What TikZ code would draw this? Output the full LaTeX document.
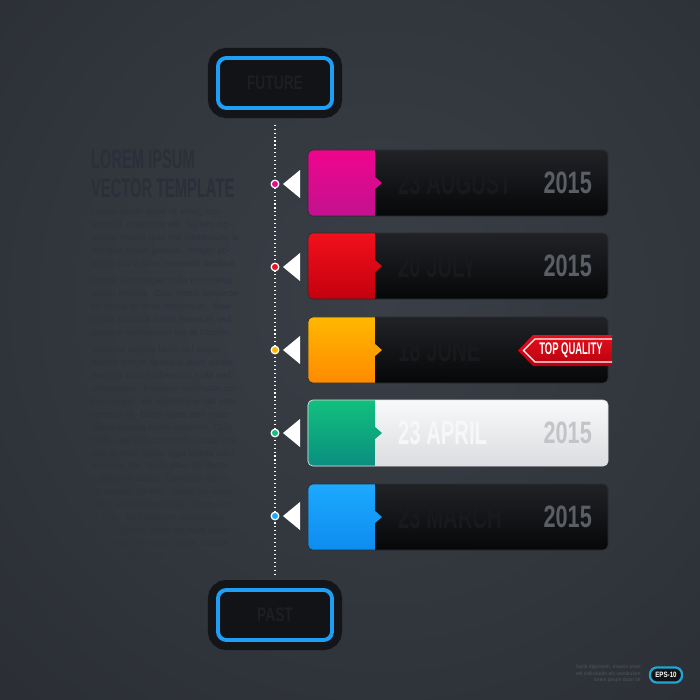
\documentclass[tikz,border=0pt]{standalone}
\usepackage{fontspec}
\setmainfont{Liberation Sans}
\usetikzlibrary{calc}

\definecolor{bgin}{HTML}{3A3F47}
\definecolor{bgout}{HTML}{1D2024}
\definecolor{cardtop}{HTML}{202226}
\definecolor{cardbot}{HTML}{060708}
\definecolor{cardedge}{HTML}{2C2F34}
\definecolor{whitetop}{HTML}{F8F9FA}
\definecolor{whitebot}{HTML}{DCDDE0}
\definecolor{yeargray}{HTML}{5B5F65}
\definecolor{yearlight}{HTML}{C2C4C7}
\definecolor{datedark}{HTML}{17191C}
\definecolor{datelight}{HTML}{F6F7F8}
\definecolor{pinktop}{HTML}{F0048C}
\definecolor{pinkbot}{HTML}{C2128F}
\definecolor{redtop}{HTML}{F2101C}
\definecolor{redbot}{HTML}{C4000E}
\definecolor{orangetop}{HTML}{FFB800}
\definecolor{orangebot}{HTML}{FF8A00}
\definecolor{greentop}{HTML}{12C07E}
\definecolor{greenbot}{HTML}{0A8E80}
\definecolor{bluetop}{HTML}{1CAAFF}
\definecolor{bluebot}{HTML}{0E8CF0}
\definecolor{boxblue}{HTML}{1E9EF5}
\definecolor{boxframe}{HTML}{131518}
\definecolor{boxfill}{HTML}{111316}
\definecolor{boxtext}{HTML}{1C1E22}
\definecolor{ribtop}{HTML}{E4101C}
\definecolor{ribbot}{HTML}{B8000E}
\definecolor{headgray}{HTML}{29303A}
\definecolor{bodygray}{HTML}{2C343E}
\definecolor{epsblue}{HTML}{1FA6D6}
\definecolor{creditgray}{HTML}{4F545B}

\tikzset{
  card/.style={minimum width=7.5cm, minimum height=1.65cm, inner sep=0,
    rounded corners=3.5pt, draw=cardedge, line width=0.5pt,
    top color=cardtop, bottom color=cardbot},
  tab/.style 2 args={path picture={
    \shade[sharp corners, draw=none, top color=#1, bottom color=#2]
      (path picture bounding box.north west) rectangle
      ($(path picture bounding box.south west)+(67,0)$);
    \fill[sharp corners, draw=none, #1!50!#2]
      ($(path picture bounding box.west)+(66,-7)$) -- ++(8,7) -- ++(-8,7) -- cycle;}},
  dot/.style={circle, fill=#1, draw=white, line width=0.9pt,
    minimum size=0.19cm, inner sep=0},
  year/.style={font=\fontsize{22}{22}\selectfont\bfseries, text=yeargray,
    xscale=0.7, inner sep=0, anchor=east},
  date/.style={font=\fontsize{24}{24}\selectfont\bfseries, text=datedark,
    xscale=0.6, inner sep=0, anchor=west},
  timebox/.style={draw=boxblue, line width=2.8pt, rounded corners=6pt,
    fill=boxfill, minimum width=2.85cm, minimum height=1.25cm,
    preaction={draw=boxframe, line width=0.5cm},
    font=\fontsize{14}{14}\selectfont\bfseries, text=boxtext},
  ribbontext/.style={font=\fontsize{12}{12}\selectfont\bfseries, text=white,
    xscale=0.56, inner sep=0},
  eps/.style={draw=epsblue, line width=1.6pt, rounded corners=5pt,
    fill=boxfill, minimum width=0.8cm, minimum height=0.38cm, inner sep=0,
    font=\fontsize{5.5}{5.5}\selectfont\bfseries, text=white},
}

\begin{document}
\begin{tikzpicture}[x=0.025cm, y=-0.025cm]
	\useasboundingbox (0,0) rectangle (700,700);
	% background
	\begin{scope}
	\clip (0,0) rectangle (700,700);
	\fill[bgout] (0,0) rectangle (700,700);
	\shade[inner color=bgin, outer color=bgout] (380,300) circle (1040);
	\end{scope}
	
	% left column
	\node[anchor=north west, font=\fontsize{19}{20}\selectfont\bfseries, text=headgray,
	  align=left, xscale=0.55, inner sep=0] (title) at (91,150) {LOREM IPSUM\\VECTOR TEMPLATE};
	\node[anchor=north west, text width=3.75cm, align=left, inner sep=0,
	  font=\fontsize{6.3}{9.2}\selectfont, text=bodygray] (body) at (91,208) {Lorem ipsum dolor sit amet, consectetur adipiscing elit. Nullam dignissim mauris quis nisl vestibulum, at volutpat lectus gravida. Integer posuere erat a ante venenatis dapibus.\par\smallskip
	Donec ullamcorper nulla non metus auctor fringilla. Cras mattis consectetur purus sit amet fermentum. Maecenas faucibus mollis interdum sed posuere consectetur est at lobortis.\par\smallskip
	Vivamus sagittis lacus vel augue laoreet rutrum faucibus dolor auctor. Aenean lacinia bibendum nulla sed consectetur. Praesent commodo cursus magna, vel scelerisque nisl consectetur et. Etiam porta sem malesuada magna mollis euismod. Duis mollis, est non commodo luctus, nisi erat porttitor ligula, eget lacinia odio sem nec elit. Nulla vitae elit libero, a pharetra augue. Curabitur blandit tempus porttitor. Morbi leo risus, porta ac consectetur ac, vestibulum at eros. Sed posuere consectetur est at lobortis, fusce dapibus tellus ac cursus commodo, tortor mauris condimentum nibh.};
	
	% timeline ends
	\node[timebox] (future) at (275,83) {\scalebox{0.7}[1]{FUTURE}};
	\node[timebox] (past) at (275,615) {\scalebox{0.7}[1]{PAST}};
	\draw[white, line width=0.8pt, dash pattern=on 0.8pt off 2pt,
	  shorten <=10.5pt, shorten >=9pt] (future.south) -- (past.north);
	
	% timeline dots
	\node[dot=pinktop] (d1) at (275,184) {};
	\node[dot=redtop] (d2) at (275,267) {};
	\node[dot=orangetop] (d3) at (275,350) {};
	\node[dot=greentop] (d4) at (275,433) {};
	\node[dot=bluetop] (d5) at (275,516) {};
	\fill[white] ($(d1)+(8,0)$) -- ($(d1)+(25,-14)$) -- ($(d1)+(25,14)$) -- cycle;
	\fill[white] ($(d2)+(8,0)$) -- ($(d2)+(25,-14)$) -- ($(d2)+(25,14)$) -- cycle;
	\fill[white] ($(d3)+(8,0)$) -- ($(d3)+(25,-14)$) -- ($(d3)+(25,14)$) -- cycle;
	\fill[white] ($(d4)+(8,0)$) -- ($(d4)+(25,-14)$) -- ($(d4)+(25,14)$) -- cycle;
	\fill[white] ($(d5)+(8,0)$) -- ($(d5)+(25,-14)$) -- ($(d5)+(25,14)$) -- cycle;
	
	% cards
	\node[card, tab={pinktop}{pinkbot}] (aug) at (458,183) {};
	\node[date] (augd) at (398,183) {23 AUGUST};
	\node[year] (augy) at (592,183) {2015};
	
	\node[card, tab={redtop}{redbot}] (jul) at (458,266) {};
	\node[date] (juld) at (398,266) {20 JULY};
	\node[year] (july) at (592,266) {2015};
	
	\node[card, tab={orangetop}{orangebot}] (jun) at (458,350) {};
	\node[date] (jund) at (398,350) {18 JUNE};
	\shade[top color=ribtop, bottom color=ribbot] (518,350.5) -- (533,335) -- (612,335) -- (612,366) -- (533,366) -- cycle;
	\draw[white, line width=0.8pt] (612,339) -- (535,339) -- (523.5,350.5) -- (535,362) -- (612,362);
	\node[ribbontext] (quality) at (571,350.5) {TOP QUALITY};
	
	\node[card, tab={greentop}{greenbot}, top color=whitetop, bottom color=whitebot,
	  draw=whitebot] (apr) at (458,433) {};
	\node[date, text=datelight] (aprd) at (398,433) {23 APRIL};
	\node[year, text=yearlight] (apry) at (592,433) {2015};
	
	\node[card, tab={bluetop}{bluebot}] (mar) at (458,517) {};
	\node[date] (mard) at (398,517) {23 MARCH};
	\node[year] (mary) at (592,517) {2015};
	
	% corner note
	\node[eps] (eps) at (666,675) {\scalebox{0.8}[1]{EPS-10}};
	\node[anchor=east, align=right, inner sep=0, text=creditgray,
	  font=\fontsize{3.6}{4.6}\selectfont] (credit) at (641,674) {Nulla dignissim, mauris amet\\elit sollicitudin elit vestibulum\\lorem ipsum dolor sit};
\end{tikzpicture}
\end{document}
